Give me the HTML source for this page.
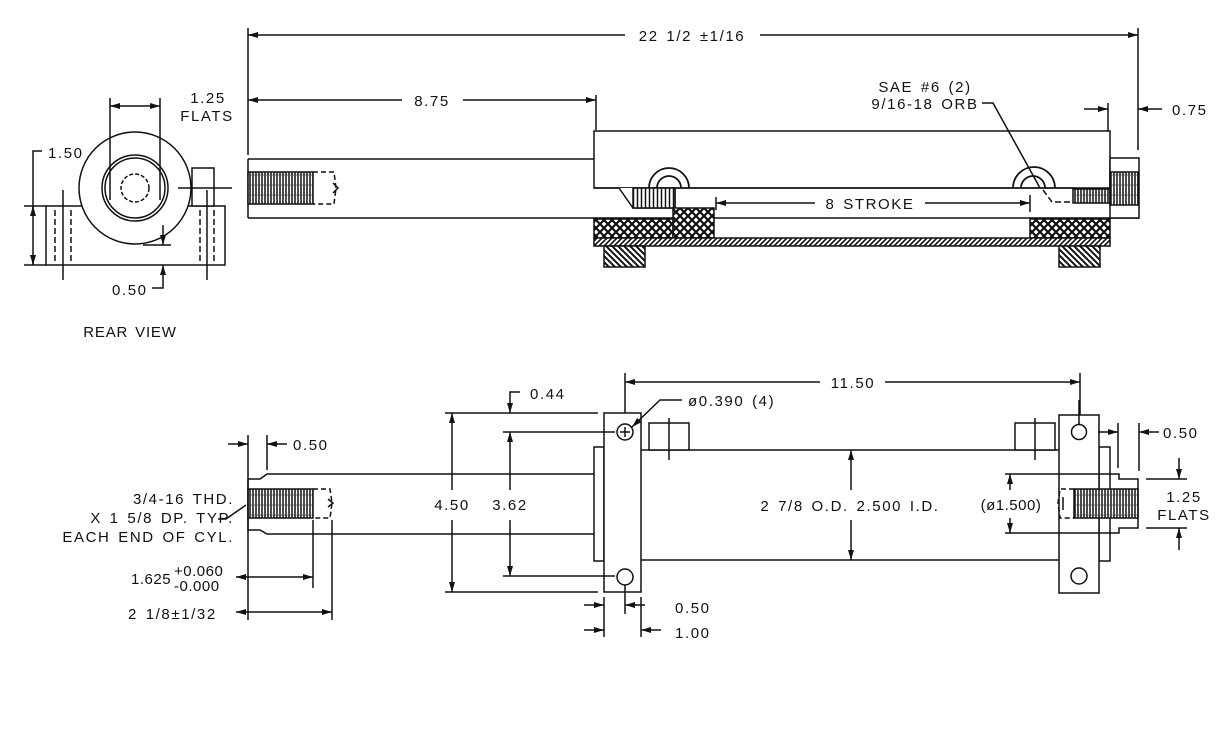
<!DOCTYPE html>
<html><head><meta charset="utf-8"><style>
html,body{margin:0;padding:0;background:#fff;}
svg{display:block;}
text{font-family:"Liberation Sans",sans-serif;font-size:15px;fill:#111;letter-spacing:1.6px;word-spacing:2px;}
</style></head><body>
<svg width="1221" height="744" viewBox="0 0 1221 744" xmlns="http://www.w3.org/2000/svg">
<defs>
<marker id="a" viewBox="0 0 10 6" refX="10" refY="3" markerWidth="10" markerHeight="6" orient="auto-start-reverse" markerUnits="userSpaceOnUse"><path d="M0,0 L10,3 L0,6z" fill="#111"/></marker>
<pattern id="xh" width="8" height="8" patternUnits="userSpaceOnUse"><rect width="8" height="8" fill="#fff"/><path d="M0,8 L8,0 M0,0 L8,8" stroke="#111" stroke-width="2.2"/></pattern>
<pattern id="dh" width="5" height="5" patternUnits="userSpaceOnUse"><rect width="5" height="5" fill="#fff"/><path d="M0,5 L5,0 M-1,1 L1,-1 M4,6 L6,4" stroke="#111" stroke-width="1.6"/></pattern>
<pattern id="fh" width="6" height="6" patternUnits="userSpaceOnUse"><rect width="6" height="6" fill="#fff"/><path d="M0,0 L6,6 M-1,5 L1,7 M5,-1 L7,1" stroke="#111" stroke-width="2"/></pattern>
<pattern id="th" width="6" height="10" patternUnits="userSpaceOnUse"><rect width="6" height="10" fill="#fff"/><path d="M1,0 V10 M4,0 V10" stroke="#111" stroke-width="1.5"/><path d="M0,5 H6" stroke="#444" stroke-width="0.7"/></pattern>
<pattern id="vl" width="4" height="10" patternUnits="userSpaceOnUse"><rect width="4" height="10" fill="#fff"/><path d="M1.5,0 V10" stroke="#111" stroke-width="1.5"/></pattern>
</defs>
<g fill="none" stroke="#111" stroke-width="1.5">
<line x1="248" y1="28" x2="248" y2="155"/>
<line x1="1138" y1="28" x2="1138" y2="150"/>
<line x1="248" y1="35" x2="625" y2="35" marker-start="url(#a)"/>
<line x1="760" y1="35" x2="1138" y2="35" marker-end="url(#a)"/>
<line x1="596" y1="95" x2="596" y2="130"/>
<line x1="248" y1="100" x2="402" y2="100" marker-start="url(#a)"/>
<line x1="463" y1="100" x2="596" y2="100" marker-end="url(#a)"/>
<path d="M248,159 H594 M248,159 V218 M248,218 H1139"/>
<rect x="248" y="172" width="65" height="32" fill="url(#th)"/>
<path d="M313,172 H334 L336,188 L334,204 H313" stroke-dasharray="5,3"/>
<path d="M333,183 L338,188 L333,193"/>
<rect x="594" y="131" width="516" height="57" fill="#fff"/>
<line x1="594" y1="188" x2="1075" y2="188"/>
<rect x="1110" y="158" width="29" height="60" fill="#fff"/>
<rect x="1073" y="189" width="37" height="14" fill="url(#th)"/>
<rect x="1110" y="172" width="28" height="33" fill="url(#th)"/>
<path d="M619,188 L633,208 H675 V188" fill="#fff"/>
<rect x="633" y="188" width="42" height="20" fill="url(#vl)"/>
<path d="M649,188 A20,20 0 0 1 689,188" stroke-width="1.8"/><path d="M657,188 A12,12 0 0 1 681,188" stroke-width="1.8"/>
<path d="M1013,188 A21,21 0 0 1 1055,188" stroke-width="1.8"/><path d="M1021,188 A12,12 0 0 1 1045,188" stroke-width="1.8"/>
<rect x="594" y="219" width="79" height="19" fill="url(#xh)"/>
<rect x="673" y="208" width="41" height="30" fill="url(#xh)"/>
<rect x="1030" y="219" width="80" height="19" fill="url(#xh)"/>
<rect x="594" y="238" width="516" height="8" fill="url(#dh)"/>
<rect x="604" y="246" width="41" height="21" fill="url(#fh)"/>
<rect x="1059" y="246" width="41" height="21" fill="url(#fh)"/>
<line x1="716" y1="197" x2="716" y2="210"/>
<line x1="1030" y1="195" x2="1030" y2="212"/>
<line x1="716" y1="203" x2="815" y2="203" marker-start="url(#a)"/>
<line x1="925" y1="203" x2="1030" y2="203" marker-end="url(#a)"/>
<path d="M982,103 H993 L1040,188"/>
<path d="M1043,190 L1052,202 H1073" stroke-dasharray="6,3"/>
<line x1="1108" y1="103" x2="1108" y2="131"/>
<line x1="1084" y1="109" x2="1108" y2="109" marker-end="url(#a)"/>
<line x1="1162" y1="109" x2="1138" y2="109" marker-end="url(#a)"/>
<rect x="46" y="206" width="179" height="59" fill="#fff"/>
<rect x="192" y="168" width="22" height="38" fill="#fff"/>
<circle cx="135" cy="188" r="56" fill="#fff"/>
<circle cx="135" cy="188" r="33"/><circle cx="135" cy="188" r="30"/>
<circle cx="135" cy="188" r="14" stroke-dasharray="4,2"/>
<path d="M55,210 V262 M71,210 V262 M200,210 V262 M214,210 V262" stroke-dasharray="6,3"/>
<path d="M63,190 V280 M207,190 V280"/>
<line x1="178" y1="188" x2="232" y2="188"/>
<line x1="110" y1="98" x2="110" y2="200"/>
<line x1="160" y1="98" x2="160" y2="200"/>
<line x1="110" y1="106" x2="160" y2="106" marker-start="url(#a)" marker-end="url(#a)"/>
<path d="M42,151 H33 V265"/>
<line x1="33" y1="210" x2="33" y2="206" marker-end="url(#a)"/>
<line x1="33" y1="255" x2="33" y2="265" marker-end="url(#a)"/>
<line x1="24" y1="206" x2="46" y2="206"/><line x1="24" y1="265" x2="46" y2="265"/>
<line x1="143" y1="245" x2="171" y2="245"/>
<line x1="163" y1="225" x2="163" y2="245" marker-end="url(#a)"/>
<path d="M152,288 H163 V265" marker-end="url(#a)"/>
<line x1="625" y1="373" x2="625" y2="430"/>
<line x1="1080" y1="373" x2="1080" y2="425"/>
<line x1="625" y1="382" x2="820" y2="382" marker-start="url(#a)"/>
<line x1="885" y1="382" x2="1080" y2="382" marker-end="url(#a)"/>
<path d="M248,479 H260 L267,474 H594 M248,479 V530 H260 L267,534 H594"/>
<rect x="248" y="489" width="65" height="29" fill="url(#th)"/>
<path d="M313,489 H330 L332,503 L330,518 H313" stroke-dasharray="5,3"/>
<path d="M328,499 L333,503 L328,507"/>
<rect x="594" y="447" width="10" height="114" fill="#fff"/>
<rect x="604" y="413" width="37" height="179" fill="#fff"/>
<circle cx="625" cy="432" r="8"/><path d="M620,432 H630 M625,427 V437"/>
<circle cx="625" cy="577" r="8"/>
<path d="M641,450 H1059 M641,560 H1059"/>
<rect x="649" y="423" width="40" height="27" fill="#fff"/>
<rect x="1015" y="423" width="40" height="27" fill="#fff"/>
<line x1="669" y1="418" x2="669" y2="460"/>
<line x1="1035" y1="418" x2="1035" y2="460"/>
<rect x="1099" y="447" width="11" height="114" fill="#fff"/>
<rect x="1059" y="415" width="40" height="178" fill="#fff"/>
<circle cx="1079" cy="432" r="7.5"/><circle cx="1079" cy="576" r="8"/>
<line x1="1079" y1="400" x2="1079" y2="425"/>
<path d="M1110,474 H1119 V479 H1138 V528 H1119 V533 H1110"/>
<rect x="1074" y="489" width="64" height="29" fill="url(#th)"/>
<path d="M1074,489 H1060 L1058,503 L1060,518 H1074" stroke-dasharray="5,3"/>
<path d="M1063,497 V510"/>
<path d="M1005,474 H1110 M1005,533 H1110"/>
<line x1="1010" y1="490" x2="1010" y2="474" marker-end="url(#a)"/>
<line x1="1010" y1="518" x2="1010" y2="533" marker-end="url(#a)"/>
<line x1="851" y1="490" x2="851" y2="450" marker-end="url(#a)"/>
<line x1="851" y1="520" x2="851" y2="560" marker-end="url(#a)"/>
<line x1="445" y1="413" x2="598" y2="413"/>
<line x1="445" y1="592" x2="598" y2="592"/>
<line x1="503" y1="432" x2="615" y2="432"/>
<line x1="503" y1="576" x2="615" y2="576"/>
<line x1="452" y1="490" x2="452" y2="413" marker-end="url(#a)"/>
<line x1="452" y1="520" x2="452" y2="592" marker-end="url(#a)"/>
<line x1="510" y1="490" x2="510" y2="432" marker-end="url(#a)"/>
<line x1="510" y1="520" x2="510" y2="576" marker-end="url(#a)"/>
<path d="M520,392 H510 V413" marker-end="url(#a)"/>
<path d="M682,400 H660 L632,427" marker-end="url(#a)"/>
<line x1="248" y1="435" x2="248" y2="620"/>
<line x1="267" y1="435" x2="267" y2="470"/>
<line x1="228" y1="444" x2="248" y2="444" marker-end="url(#a)"/>
<line x1="287" y1="444" x2="267" y2="444" marker-end="url(#a)"/>
<line x1="313" y1="520" x2="313" y2="588"/>
<line x1="332" y1="520" x2="332" y2="620"/>
<line x1="236" y1="577" x2="313" y2="577" marker-start="url(#a)" marker-end="url(#a)"/>
<line x1="236" y1="612" x2="332" y2="612" marker-start="url(#a)" marker-end="url(#a)"/>
<path d="M218,519 H226 L246,505"/>
<line x1="604" y1="597" x2="604" y2="637"/>
<line x1="625" y1="585" x2="625" y2="614"/>
<line x1="641" y1="597" x2="641" y2="637"/>
<line x1="584" y1="605" x2="604" y2="605" marker-end="url(#a)"/>
<line x1="645" y1="605" x2="625" y2="605" marker-end="url(#a)"/>
<line x1="584" y1="630" x2="604" y2="630" marker-end="url(#a)"/>
<line x1="661" y1="630" x2="641" y2="630" marker-end="url(#a)"/>
<line x1="1118" y1="423" x2="1118" y2="468"/>
<line x1="1139" y1="423" x2="1139" y2="471"/>
<line x1="1098" y1="432" x2="1118" y2="432" marker-end="url(#a)"/>
<line x1="1159" y1="432" x2="1139" y2="432" marker-end="url(#a)"/>
<line x1="1146" y1="479" x2="1187" y2="479"/>
<line x1="1146" y1="528" x2="1187" y2="528"/>
<line x1="1179" y1="458" x2="1179" y2="479" marker-end="url(#a)"/>
<line x1="1179" y1="550" x2="1179" y2="528" marker-end="url(#a)"/>
</g>
<g>
<text x="692" y="41" text-anchor="middle">22 1/2 ±1/16</text>
<text x="432" y="106" text-anchor="middle">8.75</text>
<text x="925" y="92" text-anchor="middle">SAE #6 (2)</text>
<text x="925" y="109" text-anchor="middle">9/16-18 ORB</text>
<text x="1172" y="115">0.75</text>
<text x="870" y="209" text-anchor="middle">8 STROKE</text>
<text x="208" y="103" text-anchor="middle">1.25</text>
<text x="207" y="121" text-anchor="middle">FLATS</text>
<text x="48" y="158">1.50</text>
<text x="112" y="295">0.50</text>
<text x="130" y="337" text-anchor="middle" font-size="13" style="letter-spacing:0.8px">REAR VIEW</text>
<text x="853" y="388" text-anchor="middle">11.50</text>
<text x="530" y="399">0.44</text>
<text x="688" y="406">ø0.390 (4)</text>
<text x="293" y="450">0.50</text>
<text x="452" y="510" text-anchor="middle">4.50</text>
<text x="510" y="510" text-anchor="middle">3.62</text>
<text x="850" y="511" text-anchor="middle">2 7/8 O.D. 2.500 I.D.</text>
<text x="1011" y="510" text-anchor="middle" font-size="14" style="letter-spacing:0.5px">(ø1.500)</text>
<text x="1163" y="438">0.50</text>
<text x="1184" y="502" text-anchor="middle">1.25</text>
<text x="1184" y="520" text-anchor="middle">FLATS</text>
<text x="234" y="504" text-anchor="end">3/4-16 THD.</text>
<text x="234" y="523" text-anchor="end">X 1 5/8 DP. TYP.</text>
<text x="234" y="542" text-anchor="end">EACH END OF CYL.</text>
<text x="131" y="584" style="letter-spacing:0.5px">1.625</text>
<text x="174" y="576" font-size="14" style="letter-spacing:0.5px">+0.060</text>
<text x="174" y="591" font-size="14" style="letter-spacing:0.5px">-0.000</text>
<text x="128" y="619">2 1/8±1/32</text>
<text x="675" y="613">0.50</text>
<text x="675" y="638">1.00</text>
</g>
</svg>
</body></html>
